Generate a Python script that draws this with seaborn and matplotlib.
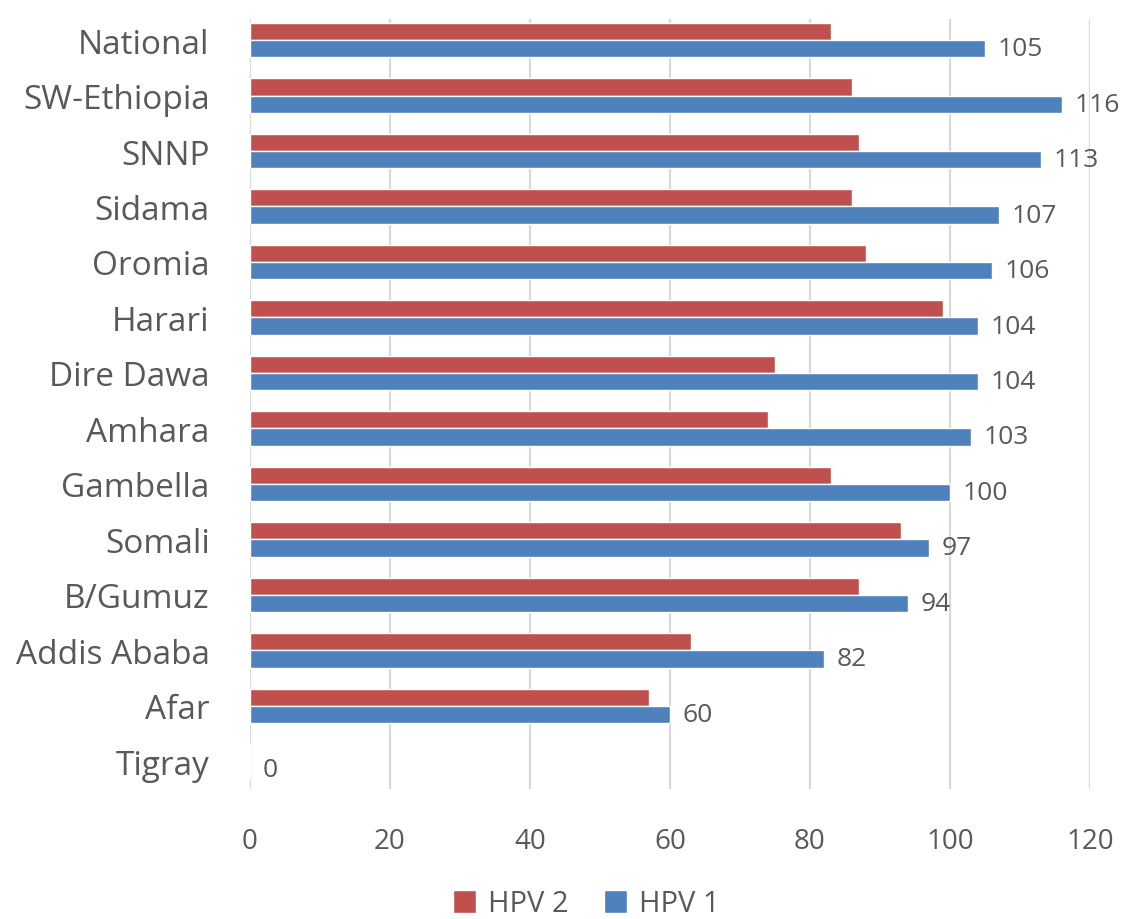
import matplotlib
matplotlib.use("Agg")
import matplotlib.pyplot as plt
import pandas as pd
import seaborn as sns
from matplotlib.patches import Patch

regions = ["National", "SW-Ethiopia", "SNNP", "Sidama", "Oromia", "Harari",
           "Dire Dawa", "Amhara", "Gambella", "Somali", "B/Gumuz",
           "Addis Ababa", "Afar", "Tigray"]
hpv1 = [105, 116, 113, 107, 106, 104, 104, 103, 100, 97, 94, 82, 60, 0]
hpv2 = [83, 86, 87, 86, 88, 99, 75, 74, 83, 93, 87, 63, 57, 0]
x_ticks = [0, 20, 40, 60, 80, 100, 120]

red = "#C0504D"
blue = "#4F81BD"
text_grey = "#595959"

# Long format for seaborn
df = pd.DataFrame({
    "region": regions * 2,
    "value": hpv2 + hpv1,
    "dose": ["HPV 2"] * len(regions) + ["HPV 1"] * len(regions),
})

sns.set_style("white")
plt.rcParams["font.family"] = ["Open Sans", "DejaVu Sans"]

fig = plt.figure(figsize=(11.27, 9.2), dpi=100)
ax = fig.add_axes([0.2218, 0.1413, 0.7453, 0.8370])

sns.barplot(data=df, y="region", x="value", hue="dose", order=regions,
            hue_order=["HPV 2", "HPV 1"], palette=[red, blue], width=0.62,
            orient="h", legend=False, ax=ax, saturation=1)

# Label only the HPV 1 bars
ax.bar_label(ax.containers[1], fmt="%g", padding=9, fontsize=19, color=text_grey)

ax.set_xlim(0, 120)
ax.set_ylim(13.5, -0.38)
ax.set_xticks(x_ticks)
ax.xaxis.grid(True, color="#D9D9D9", linewidth=1.6)
ax.set_axisbelow(True)
for s in ax.spines.values():
    s.set_visible(False)
ax.set_xlabel("")
ax.set_ylabel("")
ax.tick_params(axis="x", length=0, pad=27, labelsize=20, labelcolor=text_grey)
ax.tick_params(axis="y", length=0, pad=29, labelsize=24, labelcolor=text_grey)

handles = [Patch(facecolor=red, label="HPV 2"), Patch(facecolor=blue, label="HPV 1")]
fig.legend(handles=handles, loc="center", bbox_to_anchor=(0.52, 1 - 905 / 920),
           ncol=2, frameon=False, fontsize=21, labelcolor=text_grey,
           handlelength=0.8, handleheight=0.8, handletextpad=0.4, columnspacing=1.2)

fig.savefig("out.png", dpi=100)
plt.close(fig)
